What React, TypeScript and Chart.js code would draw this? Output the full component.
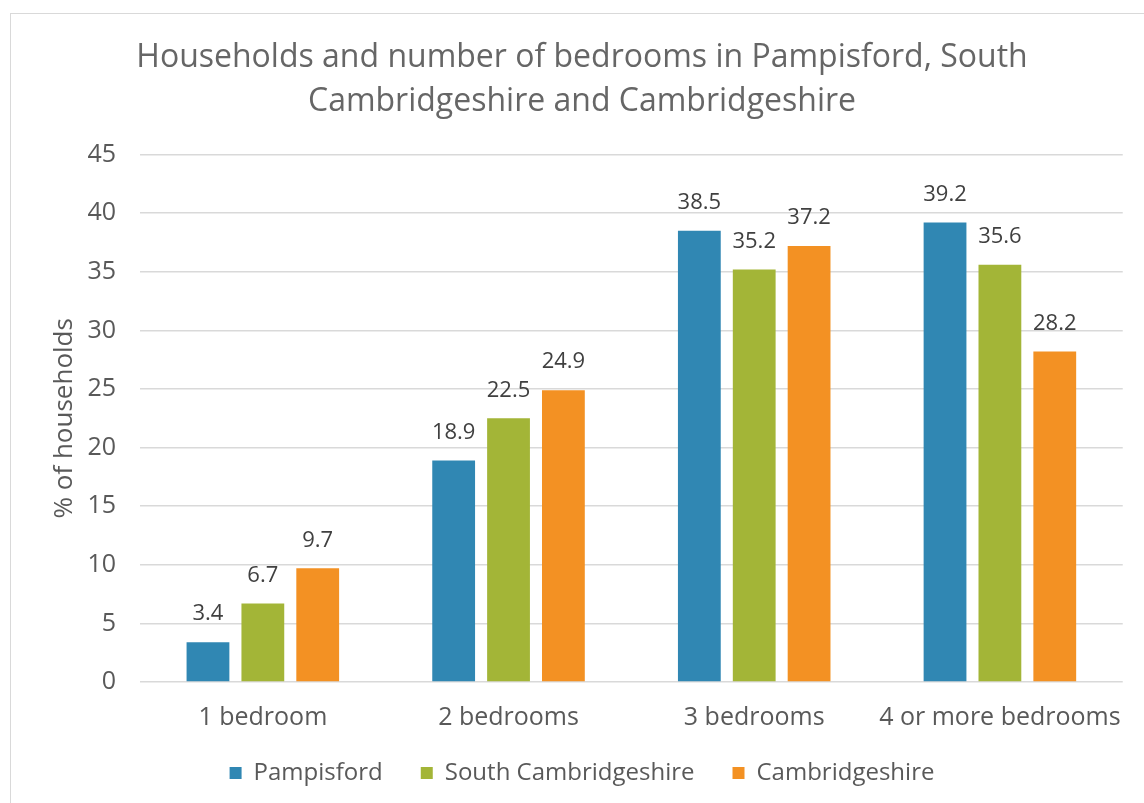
import React, { useEffect, useRef } from "react";
import { Chart, registerables } from "chart.js";

Chart.register(...registerables);

const categories = ["1 bedroom", "2 bedrooms", "3 bedrooms", "4 or more bedrooms"];
const pampisford = [3.4, 18.9, 38.5, 39.2];
const southCambs = [6.7, 22.5, 35.2, 35.6];
const cambridgeshire = [9.7, 24.9, 37.2, 28.2];
const seriesNames = ["Pampisford", "South Cambridgeshire", "Cambridgeshire"];
const titleLines = ["Households and number of bedrooms in Pampisford, South", "Cambridgeshire and Cambridgeshire"];
const yAxisTitle = "% of households";

const FONT = "'Open Sans', 'Noto Sans', sans-serif";

const dataLabels = {
  id: "dataLabels",
  afterDatasetsDraw(chart: any) {
    const ctx = chart.ctx;
    ctx.save();
    ctx.font = `22px ${FONT}`;
    ctx.fillStyle = "#404040";
    ctx.textAlign = "center";
    ctx.textBaseline = "middle";
    chart.data.datasets.forEach((ds: any, i: number) => {
      const meta = chart.getDatasetMeta(i);
      meta.data.forEach((el: any, j: number) => {
        ctx.fillText(String(ds.data[j]), el.x, el.y - 28);
      });
    });
    ctx.restore();
  },
};

export default function App() {
  const ref = useRef<HTMLCanvasElement | null>(null);
  useEffect(() => {
    if (!ref.current) return;
    const chart = new Chart(ref.current, {
      type: "bar",
      data: {
        labels: categories,
        datasets: [
          { label: seriesNames[0], data: pampisford, backgroundColor: "#3087B3" },
          { label: seriesNames[1], data: southCambs, backgroundColor: "#A3B537" },
          { label: seriesNames[2], data: cambridgeshire, backgroundColor: "#F39123" },
        ],
      },
      options: {
        animation: false,
        responsive: false,
        maintainAspectRatio: false,
        datasets: { bar: { categoryPercentage: 0.67, barPercentage: 0.78 } },
        layout: { padding: { left: 39, right: 19, top: 10, bottom: 8 } },
        plugins: {
          title: {
            display: true,
            text: titleLines,
            color: "#666666",
            font: { family: FONT, size: 32, weight: "normal", lineHeight: 1.4 },
            padding: { top: 25, bottom: 30 },
          },
          legend: {
            position: "bottom",
            labels: {
              color: "#595959",
              font: { family: FONT, size: 24 },
              boxWidth: 12,
              boxHeight: 12,
              padding: 38,
            },
          },
          tooltip: { enabled: false },
        },
        scales: {
          x: {
            grid: { display: false, drawTicks: false },
            border: { display: false },
            ticks: {
              color: "#595959",
              font: { family: FONT, size: 25 },
              padding: 21,
              maxRotation: 0,
              minRotation: 0,
              autoSkip: false,
            },
            afterFit: (s: any) => {
              s.height = 41;
              s._computeLabelArea = () => undefined;
            },
          },
          y: {
            min: 0,
            max: 45,
            ticks: { stepSize: 5, color: "#595959", font: { family: FONT, size: 25 }, padding: 24 },
            grid: { color: "#d9d9d9", lineWidth: 1.5, drawTicks: false },
            border: { display: false },
            title: {
              display: true,
              text: yAxisTitle,
              color: "#595959",
              font: { family: FONT, size: 26 },
              padding: { top: 10, bottom: 0 },
            },
            afterFit: (s: any) => { s.width = 101; },
          },
        },
      },
      plugins: [dataLabels],
    });
    return () => chart.destroy();
  }, []);
  return (
    <div style={{ position: "fixed", left: 0, top: 0, width: 1144, height: 803, background: "#fff" }}>
      <div style={{ position: "absolute", left: 10, top: 13, width: 1160, height: 820, border: "1.5px solid #d9d9d9", boxSizing: "border-box" }} />
      <canvas ref={ref} width={1144} height={803} style={{ position: "absolute", left: 0, top: 0 }} />
    </div>
  );
}
